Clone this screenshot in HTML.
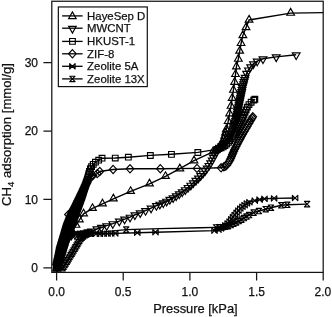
<!DOCTYPE html>
<html><head><meta charset="utf-8"><title>CH4 adsorption</title>
<style>html,body{margin:0;padding:0;background:#fff}body{width:332px;height:317px;overflow:hidden;font-family:"Liberation Sans",sans-serif}svg{display:block;will-change:transform}</style></head>
<body>
<svg width="332" height="317" viewBox="0 0 332 317">
<rect width="332" height="317" fill="#fff"/>
<defs><clipPath id="c"><rect x="51.8" y="1.25" width="271.4" height="271.15"/></clipPath></defs>
<g clip-path="url(#c)" fill="none" stroke="#000" stroke-width="1.4" stroke-linejoin="miter">
<polyline points="62.6,268.2 65.8,263.2 73.5,250.6 80.6,238.6 84.5,235.2 88.5,233.4 126.2,229.6 160,228.6 200,227.7 216,227.4 216,227.4 222,227.2 226,226.6 229,225.8 235,223 241,219.8 247,216.2 251,213.9 253.6,212.6 258.9,211 265.7,209.2 271,207.7 281.3,205.3 287.3,204.8 307.1,204.1"/>
<path stroke-width="1.15" stroke-linejoin="round" d="M59.9 265.5L65.3 265.5L59.9 270.9L65.3 270.9ZM60.9 263.9L66.3 263.9L60.9 269.3L66.3 269.3ZM61.9 262.3L67.3 262.3L61.9 267.7L67.3 267.7ZM63 260.7L68.4 260.7L63 266.1L68.4 266.1ZM64 259.1L69.4 259.1L64 264.5L69.4 264.5ZM65 257.5L70.4 257.5L65 262.9L70.4 262.9ZM65.9 255.8L71.3 255.8L65.9 261.2L71.3 261.2ZM66.9 254.2L72.3 254.2L66.9 259.6L72.3 259.6ZM67.9 252.6L73.3 252.6L67.9 258L73.3 258ZM68.9 251L74.3 251L68.9 256.4L74.3 256.4ZM69.9 249.4L75.3 249.4L69.9 254.8L75.3 254.8ZM70.9 247.7L76.3 247.7L70.9 253.1L76.3 253.1ZM71.9 246.1L77.3 246.1L71.9 251.5L77.3 251.5ZM72.8 244.5L78.2 244.5L72.8 249.9L78.2 249.9ZM73.8 242.8L79.2 242.8L73.8 248.2L79.2 248.2ZM74.8 241.2L80.2 241.2L74.8 246.6L80.2 246.6ZM75.7 239.6L81.1 239.6L75.7 245L81.1 245ZM76.7 237.9L82.1 237.9L76.7 243.3L82.1 243.3ZM77.7 236.3L83.1 236.3L77.7 241.7L83.1 241.7ZM79 234.9L84.4 234.9L79 240.3L84.4 240.3ZM80.4 233.7L85.8 233.7L80.4 239.1L85.8 239.1ZM81.9 232.5L87.3 232.5L81.9 237.9L87.3 237.9ZM83.6 231.7L89 231.7L83.6 237.1L89 237.1ZM85.3 230.9L90.7 230.9L85.3 236.3L90.7 236.3ZM123.5 226.9L128.9 226.9L123.5 232.3L128.9 232.3ZM213.3 224.7L218.7 224.7L213.3 230.1L218.7 230.1ZM216.3 224.6L221.7 224.6L216.3 230L221.7 230ZM219.3 224.5L224.7 224.5L219.3 229.9L224.7 229.9ZM222.3 224.1L227.7 224.1L222.3 229.5L227.7 229.5ZM225.2 223.4L230.6 223.4L225.2 228.8L230.6 228.8ZM228 222.3L233.4 222.3L228 227.7L233.4 227.7ZM230.7 221.1L236.1 221.1L230.7 226.5L236.1 226.5ZM233.4 219.7L238.8 219.7L233.4 225.1L238.8 225.1ZM236 218.3L241.4 218.3L236 223.7L241.4 223.7ZM238.7 216.9L244.1 216.9L238.7 222.3L244.1 222.3ZM241.2 215.3L246.6 215.3L241.2 220.7L246.6 220.7ZM243.8 213.8L249.2 213.8L243.8 219.2L249.2 219.2ZM246.4 212.3L251.8 212.3L246.4 217.7L251.8 217.7ZM250.9 209.9L256.3 209.9L250.9 215.3L256.3 215.3ZM256.2 208.3L261.6 208.3L256.2 213.7L261.6 213.7ZM263 206.5L268.4 206.5L263 211.9L268.4 211.9ZM268.3 205L273.7 205L268.3 210.4L273.7 210.4ZM278.6 202.6L284 202.6L278.6 208L284 208ZM284.6 202.1L290 202.1L284.6 207.5L290 207.5ZM304.4 201.4L309.8 201.4L304.4 206.8L309.8 206.8Z"/>
<polyline points="56.6,267.8 58.5,260 61,252 64,244 66.8,238.2 69,235.2 73.5,233.9 73.5,233.9 80,233.8 92.4,233.8 96.1,233.8 99.9,233.8 103.7,233.7 107.5,233.6 111.2,233.5 115.2,233.4 137.3,232.7 155.5,232.2 214.5,230.6 214.5,230.6 219.5,229.4 224,226.5 229,222.2 235,214.5 241,207.7 247,203.3 250,201.9 254.8,200.6 259.6,199.6 264.5,198.8 274.1,198.4 295.1,198"/>
<path stroke-width="1.15" stroke-linejoin="round" d="M53.9 265.1L59.3 270.5L59.3 265.1L53.9 270.5ZM54.3 263.5L59.7 268.9L59.7 263.5L54.3 268.9ZM54.7 262L60.1 267.4L60.1 262L54.7 267.4ZM55 260.4L60.4 265.8L60.4 260.4L55 265.8ZM55.4 258.9L60.8 264.3L60.8 258.9L55.4 264.3ZM55.8 257.3L61.2 262.7L61.2 257.3L55.8 262.7ZM56.3 255.8L61.7 261.2L61.7 255.8L56.3 261.2ZM56.7 254.3L62.1 259.7L62.1 254.3L56.7 259.7ZM57.2 252.7L62.6 258.1L62.6 252.7L57.2 258.1ZM57.7 251.2L63.1 256.6L63.1 251.2L57.7 256.6ZM58.2 249.7L63.6 255.1L63.6 249.7L58.2 255.1ZM58.7 248.2L64.1 253.6L64.1 248.2L58.7 253.6ZM59.3 246.7L64.7 252.1L64.7 246.7L59.3 252.1ZM59.8 245.2L65.2 250.6L65.2 245.2L59.8 250.6ZM60.4 243.7L65.8 249.1L65.8 243.7L60.4 249.1ZM61 242.2L66.4 247.6L66.4 242.2L61 247.6ZM61.6 240.7L67 246.1L67 240.7L61.6 246.1ZM62.3 239.3L67.7 244.7L67.7 239.3L62.3 244.7ZM63 237.8L68.4 243.2L68.4 237.8L63 243.2ZM63.7 236.4L69.1 241.8L69.1 236.4L63.7 241.8ZM64.5 235L69.9 240.4L69.9 235L64.5 240.4ZM65.4 233.7L70.8 239.1L70.8 233.7L65.4 239.1ZM66.4 232.5L71.8 237.9L71.8 232.5L66.4 237.9ZM67.9 232L73.3 237.4L73.3 232L67.9 237.4ZM69.5 231.6L74.9 237L74.9 231.6L69.5 237ZM73.8 231.2L79.2 236.6L79.2 231.2L73.8 236.6ZM77.1 231.1L82.5 236.5L82.5 231.1L77.1 236.5ZM80.4 231.1L85.8 236.5L85.8 231.1L80.4 236.5ZM83.7 231.1L89.1 236.5L89.1 231.1L83.7 236.5ZM87 231.1L92.4 236.5L92.4 231.1L87 236.5ZM93.4 231.1L98.8 236.5L98.8 231.1L93.4 236.5ZM97.2 231.1L102.6 236.5L102.6 231.1L97.2 236.5ZM101 231L106.4 236.4L106.4 231L101 236.4ZM104.8 230.9L110.2 236.3L110.2 230.9L104.8 236.3ZM108.5 230.8L113.9 236.2L113.9 230.8L108.5 236.2ZM112.5 230.7L117.9 236.1L117.9 230.7L112.5 236.1ZM134.6 230L140 235.4L140 230L134.6 235.4ZM152.8 229.5L158.2 234.9L158.2 229.5L152.8 234.9ZM211.8 227.9L217.2 233.3L217.2 227.9L211.8 233.3ZM215.7 227L221.1 232.4L221.1 227L215.7 232.4ZM218.2 225.8L223.6 231.2L223.6 225.8L218.2 231.2ZM220.5 224.3L225.9 229.7L225.9 224.3L220.5 229.7ZM222.7 222.6L228.1 228L228.1 222.6L222.7 228ZM224.9 220.7L230.3 226.1L230.3 220.7L224.9 226.1ZM226.9 218.8L232.3 224.2L232.3 218.8L226.9 224.2ZM228.6 216.6L234 222L234 216.6L228.6 222ZM230.3 214.4L235.7 219.8L235.7 214.4L230.3 219.8ZM232 212.2L237.4 217.6L237.4 212.2L232 217.6ZM233.9 210L239.3 215.4L239.3 210L233.9 215.4ZM235.7 207.9L241.1 213.3L241.1 207.9L235.7 213.3ZM237.6 205.8L243 211.2L243 205.8L237.6 211.2ZM239.7 204L245.1 209.4L245.1 204L239.7 209.4ZM241.9 202.4L247.3 207.8L247.3 202.4L241.9 207.8ZM244.2 200.7L249.6 206.1L249.6 200.7L244.2 206.1ZM246.7 199.5L252.1 204.9L252.1 199.5L246.7 204.9ZM252.1 197.9L257.5 203.3L257.5 197.9L252.1 203.3ZM256.9 196.9L262.3 202.3L262.3 196.9L256.9 202.3ZM261.8 196.1L267.2 201.5L267.2 196.1L261.8 201.5ZM271.4 195.7L276.8 201.1L276.8 195.7L271.4 201.1ZM292.4 195.3L297.8 200.7L297.8 195.3L292.4 200.7Z"/>
<polyline points="56.6,266.6 58.5,258.8 61,250.8 64,243.3 66.6,238.6 68.6,236 68.6,236 71,235.2 75,234.5 80,233.7 86,232.6 92.4,230.8 96.9,229 101.4,227.5 106.7,225.7 112.8,223.7 119.3,221.1 124.6,219.1 130.1,217.2 134.9,214.9 140.2,212.8 145.5,210.6 151.1,208.1 156.4,205.6 156.4,205.6 165,202.1 175.5,196.4 185,190 190.7,185.3 199,177.6 205,171.1 210,164.1 214.5,155.8 217.5,150.3 222,145.8 226.5,141.3 230,136.3 232.5,130.3 234.5,123.8 234.5,123.8 236.6,117.1 239.6,101.9 242.6,87.2 245.2,77.3 246.6,73.4 248.4,70 250.6,66.8 253.4,63.8 257.2,61.2 263,58.8 276.2,56.9 296.2,54.8"/>
<path stroke-width="1.15" d="M56.6 271.2L60.5 264.6L52.8 264.6ZM56.9 270.1L60.7 263.4L53 263.4ZM57.2 268.9L61 262.2L53.3 262.2ZM57.5 267.8L61.3 261.1L53.6 261.1ZM57.7 266.6L61.6 259.9L53.9 259.9ZM58 265.4L61.9 258.7L54.2 258.7ZM58.3 264.3L62.2 257.6L54.5 257.6ZM58.6 263.1L62.5 256.4L54.8 256.4ZM59 261.9L62.8 255.2L55.1 255.2ZM59.3 260.8L63.2 254.1L55.5 254.1ZM59.7 259.7L63.5 253L55.8 253ZM60 258.5L63.9 251.8L56.2 251.8ZM60.4 257.4L64.3 250.7L56.6 250.7ZM60.8 256.2L64.6 249.5L56.9 249.5ZM61.1 255.1L65 248.4L57.3 248.4ZM61.6 254L65.4 247.3L57.7 247.3ZM62 252.9L65.9 246.2L58.2 246.2ZM62.5 251.7L66.3 245L58.6 245ZM62.9 250.6L66.8 243.9L59.1 243.9ZM63.4 249.5L67.2 242.8L59.5 242.8ZM63.8 248.4L67.7 241.7L60 241.7ZM64.3 247.3L68.2 240.6L60.5 240.6ZM64.9 246.3L68.8 239.6L61.1 239.6ZM65.5 245.2L69.4 238.5L61.7 238.5ZM66.1 244.2L69.9 237.5L62.2 237.5ZM66.7 243.1L70.5 236.4L62.8 236.4ZM67.4 242.2L71.3 235.5L63.6 235.5ZM68.1 241.2L72 234.5L64.3 234.5ZM71.5 239.8L75.3 233.1L67.6 233.1ZM74.8 239.2L78.7 232.5L71 232.5ZM78.2 238.6L82 231.9L74.3 231.9ZM81.5 238.1L85.4 231.4L77.7 231.4ZM84.9 237.5L88.7 230.8L81 230.8ZM88.2 236.6L92 229.9L84.3 229.9ZM91.4 235.7L95.3 229L87.6 229ZM96.9 233.6L100.8 226.9L93.1 226.9ZM101.4 232.1L105.2 225.4L97.6 225.4ZM106.7 230.3L110.5 223.7L102.9 223.7ZM112.8 228.3L116.6 221.7L109 221.7ZM119.3 225.8L123.1 219.1L115.5 219.1ZM124.6 223.8L128.4 217.1L120.8 217.1ZM130.1 221.8L133.9 215.2L126.2 215.2ZM134.9 219.5L138.8 212.8L131.1 212.8ZM140.2 217.4L144 210.8L136.3 210.8ZM145.5 215.2L149.3 208.6L141.7 208.6ZM151.1 212.8L154.9 206.1L147.2 206.1ZM156.4 210.2L160.2 203.6L152.6 203.6ZM156.4 210.2L160.2 203.6L152.6 203.6ZM159.8 208.9L163.7 202.2L156 202.2ZM163.3 207.5L167.1 200.8L159.4 200.8ZM166.6 205.9L170.4 199.2L162.7 199.2ZM169.8 204.1L173.7 197.4L166 197.4ZM173.1 202.4L176.9 195.7L169.2 195.7ZM176.2 200.5L180.1 193.8L172.4 193.8ZM179.3 198.5L183.1 191.8L175.4 191.8ZM182.3 196.5L186.1 189.8L178.4 189.8ZM185.3 194.4L189.1 187.7L181.4 187.7ZM188 192.2L191.9 185.5L184.2 185.5ZM190.8 189.9L194.6 183.2L186.9 183.2ZM193.3 187.5L197.2 180.8L189.5 180.8ZM195.9 185.1L199.7 178.4L192 178.4ZM198.4 182.8L202.3 176.1L194.6 176.1ZM200.8 180.3L204.6 173.6L196.9 173.6ZM203 177.9L206.9 171.2L199.2 171.2ZM205.2 175.4L209.1 168.7L201.4 168.7ZM207.1 172.8L211 166.1L203.3 166.1ZM209 170.2L212.8 163.5L205.1 163.5ZM210.7 167.5L214.5 160.8L206.8 160.8ZM212.1 164.8L216 158.1L208.3 158.1ZM213.6 162.2L217.4 155.5L209.7 155.5ZM215 159.6L218.8 152.9L211.1 152.9ZM216.4 157L220.2 150.3L212.5 150.3ZM217.8 154.6L221.7 147.9L214 147.9ZM219.8 152.7L223.6 146L215.9 146ZM221.7 150.8L225.5 144.1L217.8 144.1ZM223.5 148.9L227.4 142.2L219.7 142.2ZM225.3 147.1L229.2 140.4L221.5 140.4ZM226.9 145.3L230.8 138.6L223.1 138.6ZM228.3 143.3L232.2 136.6L224.5 136.6ZM229.7 141.4L233.5 134.7L225.8 134.7ZM230.6 139.4L234.5 132.7L226.8 132.7ZM231.5 137.4L235.3 130.7L227.6 130.7ZM232.3 135.4L236.2 128.7L228.5 128.7ZM233 133.5L236.8 126.8L229.1 126.8ZM233.5 131.6L237.4 124.9L229.7 124.9ZM234.1 129.7L238 123L230.3 123ZM234.5 128.4L238.3 121.8L230.7 121.8ZM235 126.7L238.9 120L231.2 120ZM235.6 125L239.4 118.3L231.7 118.3ZM236.1 123.3L240 116.6L232.3 116.6ZM236.6 121.6L240.5 114.9L232.8 114.9ZM237 119.8L240.8 113.1L233.1 113.1ZM237.3 118L241.2 111.3L233.5 111.3ZM237.7 116.3L241.5 109.6L233.8 109.6ZM238 114.5L241.9 107.8L234.2 107.8ZM238.4 112.7L242.2 106L234.5 106ZM238.7 110.9L242.6 104.2L234.9 104.2ZM239.1 109.1L242.9 102.4L235.2 102.4ZM239.4 107.3L243.3 100.6L235.6 100.6ZM239.8 105.5L243.7 98.8L236 98.8ZM240.2 103.7L244 97L236.3 97ZM240.6 101.9L244.4 95.2L236.7 95.2ZM240.9 100L244.8 93.3L237.1 93.3ZM241.3 98.1L245.2 91.4L237.5 91.4ZM241.7 96.2L245.6 89.5L237.9 89.5ZM242.1 94.3L245.9 87.6L238.2 87.6ZM242.5 92.3L246.3 85.6L238.6 85.6ZM243 90.4L246.8 83.7L239.1 83.7ZM243.5 88.4L247.4 81.7L239.7 81.7ZM244.1 86.3L247.9 79.6L240.2 79.6ZM244.6 84.2L248.5 77.5L240.8 77.5ZM245.2 82.1L249 75.4L241.3 75.4ZM246.6 78L250.4 71.3L242.8 71.3ZM248.4 74.7L252.2 68L244.6 68ZM250.6 71.5L254.4 64.8L246.8 64.8ZM253.4 68.5L257.2 61.8L249.6 61.8ZM257.2 65.8L261.1 59.1L253.3 59.1ZM263 63.5L266.9 56.8L259.1 56.8ZM276.2 61.6L280.1 54.9L272.3 54.9ZM296.2 59.5L300.1 52.8L292.3 52.8Z"/>
<polyline points="56.6,269 59.6,257.7 62.8,246.7 65.3,239.2 67,235.2 69.8,231.6 72.8,228.2 76,225.2 79.4,219.8 83.6,213.8 92.5,208.4 102.5,203.9 113.4,198.9 130.6,191.4 149.5,183.9 165.5,176.4 179.8,168.7 194,160.7 213,151.8 213,151.8 218,148.7 221,145.7 223.2,141.2 225,135.2 226.5,128.8 228.2,121.5 229.6,113.8 231,106.1 232.2,98.3 233.4,90.2 234.6,82.3 235.5,74.4 236.4,66.8 238.3,59.2 239.7,51.1 241.1,43.4 242.8,35.6 246.1,27.6 249.1,20 290.6,13.1 324,12.6"/>
<path stroke-width="1.15" d="M56.6 264.4L60.5 271.1L52.8 271.1ZM56.9 263.4L60.7 270.1L53 270.1ZM57.1 262.4L61 269.1L53.3 269.1ZM57.4 261.5L61.2 268.2L53.5 268.2ZM57.6 260.5L61.5 267.2L53.8 267.2ZM57.9 259.5L61.7 266.2L54 266.2ZM58.1 258.5L62 265.2L54.3 265.2ZM58.4 257.6L62.2 264.3L54.5 264.3ZM58.7 256.6L62.5 263.3L54.8 263.3ZM58.9 255.6L62.8 262.3L55.1 262.3ZM59.2 254.6L63 261.3L55.3 261.3ZM59.4 253.7L63.3 260.4L55.6 260.4ZM59.7 252.7L63.6 259.4L55.9 259.4ZM60 251.7L63.9 258.4L56.2 258.4ZM60.3 250.6L64.1 257.3L56.4 257.3ZM60.6 249.6L64.4 256.3L56.7 256.3ZM60.9 248.6L64.7 255.3L57 255.3ZM61.2 247.5L65.1 254.2L57.4 254.2ZM61.5 246.5L65.4 253.2L57.7 253.2ZM61.8 245.4L65.7 252.1L58 252.1ZM62.2 244.2L66 250.9L58.3 250.9ZM62.5 243.1L66.4 249.8L58.7 249.8ZM62.9 241.9L66.7 248.6L59 248.6ZM63.3 240.7L67.1 247.4L59.4 247.4ZM63.7 239.4L67.5 246.1L59.8 246.1ZM64.1 238.1L68 244.8L60.3 244.8ZM64.6 236.7L68.4 243.4L60.7 243.4ZM65.1 235.2L68.9 241.9L61.2 241.9ZM65.7 233.7L69.5 240.4L61.8 240.4ZM66.3 232.1L70.2 238.8L62.5 238.8ZM67.1 230.4L71 237.1L63.3 237.1ZM68.4 228.8L72.2 235.5L64.5 235.5ZM69.7 227L73.6 233.7L65.9 233.7ZM71.3 225.2L75.2 231.9L67.5 231.9ZM76 220.6L79.8 227.2L72.2 227.2ZM79.4 215.2L83.2 221.8L75.6 221.8ZM83.6 209.2L87.4 215.8L79.8 215.8ZM92.5 203.8L96.3 210.4L88.7 210.4ZM102.5 199.2L106.3 205.9L98.7 205.9ZM113.4 194.2L117.2 200.9L109.6 200.9ZM130.6 186.8L134.4 193.4L126.8 193.4ZM149.5 179.2L153.3 185.9L145.7 185.9ZM165.5 171.8L169.3 178.4L161.7 178.4ZM179.8 164.1L183.7 170.8L176 170.8ZM194 156.1L197.8 162.8L190.2 162.8ZM213 147.2L216.8 153.8L209.2 153.8ZM215.9 145.4L219.7 152.1L212 152.1ZM218.6 143.4L222.5 150.1L214.8 150.1ZM221 141L224.9 147.7L217.2 147.7ZM222.5 137.9L226.4 144.6L218.7 144.6ZM223.7 134.8L227.6 141.5L219.9 141.5ZM224.7 131.5L228.6 138.2L220.9 138.2ZM225.5 128.2L229.4 134.9L221.7 134.9ZM226.3 124.9L230.2 131.6L222.5 131.6ZM228.2 116.8L232 123.5L224.3 123.5ZM229.6 109.1L233.4 115.8L225.8 115.8ZM231 101.5L234.8 108.2L227.2 108.2ZM232.2 93.6L236 100.3L228.3 100.3ZM233.4 85.5L237.2 92.2L229.6 92.2ZM234.6 77.6L238.4 84.3L230.8 84.3ZM235.5 69.8L239.3 76.5L231.7 76.5ZM236.4 62.1L240.2 68.8L232.6 68.8ZM238.3 54.5L242.2 61.2L234.5 61.2ZM239.7 46.4L243.5 53.1L235.8 53.1ZM241.1 38.8L244.9 45.5L237.2 45.5ZM242.8 30.9L246.7 37.6L239 37.6ZM246.1 22.9L249.9 29.6L242.2 29.6ZM249.1 15.4L252.9 22.1L245.2 22.1ZM290.6 8.4L294.5 15.2L286.8 15.2Z"/>
<polyline points="57.2,267.8 58.4,263 62.5,250.6 66.3,238 71.4,226.5 75.2,215 78.7,206 82,196.5 85,187 88.4,180 91.5,176.4 94.6,174.7 97.2,173.6 99.8,171.5 113.1,169.5 130,168.8 160.3,168.7 197,168.4 221.1,167.8 221.1,167.8 226.5,165.8 230.2,159.8 235,148.4 242.6,134.2 252.8,116.8 252.8,116.8"/>
<path stroke-width="1.15" d="M57.2 263.7L61 267.8L57.2 271.9L53.4 267.8ZM57.4 262.9L61.2 267L57.4 271.1L53.6 267ZM57.6 262.1L61.4 266.2L57.6 270.3L53.8 266.2ZM57.8 261.4L61.6 265.5L57.8 269.6L54 265.5ZM58 260.6L61.8 264.7L58 268.8L54.2 264.7ZM58.2 259.8L62 263.9L58.2 268L54.4 263.9ZM58.4 259L62.2 263.1L58.4 267.2L54.6 263.1ZM58.6 258.3L62.4 262.4L58.6 266.5L54.8 262.4ZM58.9 257.5L62.7 261.6L58.9 265.7L55.1 261.6ZM59.1 256.8L62.9 260.9L59.1 265L55.3 260.9ZM59.4 256L63.2 260.1L59.4 264.2L55.6 260.1ZM59.6 255.2L63.4 259.3L59.6 263.4L55.8 259.3ZM59.9 254.5L63.7 258.6L59.9 262.7L56.1 258.6ZM60.1 253.7L63.9 257.8L60.1 261.9L56.3 257.8ZM60.4 253L64.2 257.1L60.4 261.2L56.6 257.1ZM60.6 252.2L64.4 256.3L60.6 260.4L56.8 256.3ZM60.9 251.4L64.7 255.5L60.9 259.6L57.1 255.5ZM61.1 250.7L64.9 254.8L61.1 258.9L57.3 254.8ZM61.4 249.9L65.2 254L61.4 258.1L57.6 254ZM61.6 249.2L65.4 253.3L61.6 257.4L57.8 253.3ZM61.9 248.4L65.7 252.5L61.9 256.6L58.1 252.5ZM62.1 247.6L65.9 251.7L62.1 255.8L58.3 251.7ZM62.4 246.9L66.2 251L62.4 255.1L58.6 251ZM62.6 246.1L66.4 250.2L62.6 254.3L58.8 250.2ZM62.8 245.4L66.6 249.5L62.8 253.6L59 249.5ZM63.1 244.6L66.9 248.7L63.1 252.8L59.3 248.7ZM63.3 243.8L67.1 247.9L63.3 252L59.5 247.9ZM63.5 243.1L67.3 247.2L63.5 251.3L59.7 247.2ZM63.8 242.3L67.6 246.4L63.8 250.5L60 246.4ZM64 241.5L67.8 245.6L64 249.7L60.2 245.6ZM64.2 240.8L68 244.9L64.2 249L60.4 244.9ZM64.5 240L68.3 244.1L64.5 248.2L60.7 244.1ZM64.7 239.2L68.5 243.3L64.7 247.4L60.9 243.3ZM64.9 238.5L68.7 242.6L64.9 246.7L61.1 242.6ZM65.2 237.7L69 241.8L65.2 245.9L61.4 241.8ZM65.4 236.9L69.2 241L65.4 245.1L61.6 241ZM65.6 236.2L69.4 240.3L65.6 244.4L61.8 240.3ZM65.8 235.4L69.6 239.5L65.8 243.6L62 239.5ZM66.1 234.6L69.9 238.7L66.1 242.8L62.3 238.7ZM66.3 233.9L70.1 238L66.3 242.1L62.5 238ZM66.6 233.1L70.4 237.2L66.6 241.3L62.8 237.2ZM67 232.4L70.8 236.5L67 240.6L63.2 236.5ZM67.3 231.7L71.1 235.8L67.3 239.9L63.5 235.8ZM67.6 230.9L71.4 235L67.6 239.1L63.8 235ZM67.9 230.2L71.7 234.3L67.9 238.4L64.1 234.3ZM68.3 229.5L72.1 233.6L68.3 237.7L64.5 233.6ZM68.6 228.7L72.4 232.8L68.6 236.9L64.8 232.8ZM68.9 228L72.7 232.1L68.9 236.2L65.1 232.1ZM69.2 227.3L73 231.4L69.2 235.5L65.4 231.4ZM69.6 226.5L73.4 230.6L69.6 234.7L65.8 230.6ZM69.9 225.8L73.7 229.9L69.9 234L66.1 229.9ZM70.2 225.1L74 229.2L70.2 233.3L66.4 229.2ZM70.5 224.3L74.3 228.4L70.5 232.5L66.7 228.4ZM70.9 223.6L74.7 227.7L70.9 231.8L67.1 227.7ZM71.2 222.8L75 226.9L71.2 231L67.4 226.9ZM71.5 222.1L75.3 226.2L71.5 230.3L67.7 226.2ZM71.8 221.3L75.6 225.4L71.8 229.5L68 225.4ZM72 220.6L75.8 224.7L72 228.8L68.2 224.7ZM72.3 219.8L76.1 223.9L72.3 228L68.5 223.9ZM72.5 219L76.3 223.1L72.5 227.2L68.7 223.1ZM72.8 218.2L76.6 222.3L72.8 226.4L69 222.3ZM73 217.5L76.8 221.6L73 225.7L69.2 221.6ZM73.3 216.7L77.1 220.8L73.3 224.9L69.5 220.8ZM73.5 215.9L77.3 220L73.5 224.1L69.7 220ZM73.8 215.1L77.6 219.2L73.8 223.3L70 219.2ZM74.1 214.4L77.9 218.5L74.1 222.6L70.3 218.5ZM74.3 213.6L78.1 217.7L74.3 221.8L70.5 217.7ZM74.6 212.8L78.4 216.9L74.6 221L70.8 216.9ZM74.8 212L78.6 216.1L74.8 220.2L71 216.1ZM75.1 211.2L78.9 215.3L75.1 219.4L71.3 215.3ZM75.4 210.4L79.2 214.5L75.4 218.6L71.6 214.5ZM75.7 209.6L79.5 213.7L75.7 217.8L71.9 213.7ZM76 208.8L79.8 212.9L76 217L72.2 212.9ZM76.3 208.1L80.1 212.2L76.3 216.3L72.5 212.2ZM76.6 207.3L80.4 211.4L76.6 215.5L72.8 211.4ZM76.9 206.5L80.7 210.6L76.9 214.7L73.1 210.6ZM77.2 205.7L81 209.8L77.2 213.9L73.4 209.8ZM77.6 204.8L81.4 208.9L77.6 213L73.8 208.9ZM77.9 204L81.7 208.1L77.9 212.2L74.1 208.1ZM78.2 203.2L82 207.3L78.2 211.4L74.4 207.3ZM78.5 202.4L82.3 206.5L78.5 210.6L74.7 206.5ZM78.8 201.5L82.6 205.6L78.8 209.7L75 205.6ZM79.1 200.7L82.9 204.8L79.1 208.9L75.3 204.8ZM79.4 199.8L83.2 203.9L79.4 208L75.6 203.9ZM79.7 199L83.5 203.1L79.7 207.2L75.9 203.1ZM80 198.1L83.8 202.2L80 206.3L76.2 202.2ZM80.3 197.2L84.1 201.3L80.3 205.4L76.5 201.3ZM80.7 196.3L84.5 200.4L80.7 204.5L76.9 200.4ZM81 195.4L84.8 199.5L81 203.6L77.2 199.5ZM81.3 194.4L85.1 198.5L81.3 202.6L77.5 198.5ZM81.6 193.5L85.4 197.6L81.6 201.7L77.8 197.6ZM82 192.5L85.8 196.6L82 200.7L78.2 196.6ZM82.3 191.5L86.1 195.6L82.3 199.7L78.5 195.6ZM82.6 190.5L86.4 194.6L82.6 198.7L78.8 194.6ZM82.9 189.5L86.7 193.6L82.9 197.7L79.1 193.6ZM83.2 188.5L87 192.6L83.2 196.7L79.4 192.6ZM83.6 187.4L87.4 191.5L83.6 195.6L79.8 191.5ZM83.9 186.3L87.7 190.4L83.9 194.5L80.1 190.4ZM84.3 185.2L88.1 189.3L84.3 193.4L80.5 189.3ZM84.7 184L88.5 188.1L84.7 192.2L80.9 188.1ZM85.1 182.8L88.9 186.9L85.1 191L81.3 186.9ZM85.6 181.6L89.4 185.7L85.6 189.8L81.8 185.7ZM86.2 180.4L90 184.5L86.2 188.6L82.4 184.5ZM86.8 179.1L90.6 183.2L86.8 187.3L83 183.2ZM87.5 177.8L91.3 181.9L87.5 186L83.7 181.9ZM88.1 176.4L91.9 180.5L88.1 184.6L84.3 180.5ZM89.1 175.1L92.9 179.2L89.1 183.3L85.3 179.2ZM90.2 173.9L94 178L90.2 182.1L86.4 178ZM91.3 172.5L95.1 176.6L91.3 180.7L87.5 176.6ZM92.9 171.5L96.7 175.6L92.9 179.7L89.1 175.6ZM97.2 169.5L101 173.6L97.2 177.7L93.4 173.6ZM99.8 167.4L103.6 171.5L99.8 175.6L96 171.5ZM113.1 165.4L116.9 169.5L113.1 173.6L109.3 169.5ZM130 164.7L133.8 168.8L130 172.9L126.2 168.8ZM160.3 164.6L164.1 168.7L160.3 172.8L156.5 168.7ZM197 164.3L200.8 168.4L197 172.5L193.2 168.4ZM221.1 163.7L224.9 167.8L221.1 171.9L217.3 167.8ZM223.9 162.7L227.7 166.8L223.9 170.9L220.1 166.8ZM225.7 162L229.5 166.1L225.7 170.2L221.9 166.1ZM227 160.8L230.8 164.9L227 169L223.2 164.9ZM228 159.2L231.8 163.3L228 167.4L224.2 163.3ZM229 157.6L232.8 161.7L229 165.8L225.2 161.7ZM230 156L233.8 160.1L230 164.2L226.2 160.1ZM230.8 154.2L234.6 158.3L230.8 162.4L227 158.3ZM231.6 152.5L235.4 156.6L231.6 160.7L227.8 156.6ZM232.3 150.7L236.1 154.8L232.3 158.9L228.5 154.8ZM233 149L236.8 153.1L233 157.2L229.2 153.1ZM233.8 147.2L237.6 151.3L233.8 155.4L230 151.3ZM234.5 145.5L238.3 149.6L234.5 153.7L230.7 149.6ZM235.3 143.8L239.1 147.9L235.3 152L231.5 147.9ZM236.2 142.1L240 146.2L236.2 150.3L232.4 146.2ZM237.1 140.4L240.9 144.5L237.1 148.6L233.3 144.5ZM238 138.7L241.8 142.8L238 146.9L234.2 142.8ZM238.9 137L242.7 141.1L238.9 145.2L235.1 141.1ZM239.8 135.4L243.6 139.5L239.8 143.6L236 139.5ZM240.7 133.7L244.5 137.8L240.7 141.9L236.9 137.8ZM241.6 132L245.4 136.1L241.6 140.2L237.8 136.1ZM242.5 130.3L246.3 134.4L242.5 138.5L238.7 134.4ZM243.4 128.7L247.2 132.8L243.4 136.9L239.6 132.8ZM244.4 127.1L248.2 131.2L244.4 135.3L240.6 131.2ZM245.3 125.4L249.1 129.5L245.3 133.6L241.5 129.5ZM246.3 123.8L250.1 127.9L246.3 132L242.5 127.9ZM247.3 122.1L251.1 126.2L247.3 130.3L243.5 126.2ZM248.2 120.5L252 124.6L248.2 128.7L244.4 124.6ZM249.2 118.9L253 123L249.2 127.1L245.4 123ZM250.1 117.2L253.9 121.3L250.1 125.4L246.3 121.3ZM251.1 115.6L254.9 119.7L251.1 123.8L247.3 119.7ZM252.1 114L255.9 118.1L252.1 122.2L248.3 118.1ZM252.8 112.7L256.6 116.8L252.8 120.9L249 116.8ZM68.4 210.5L72.2 214.6L68.4 218.7L64.6 214.6Z"/>
<polyline points="56.4,267.8 57.2,263 59.2,250.6 63,238 66.4,226.5 71,215 75.6,206 80.2,196.5 84.6,187 87.4,179 88.8,174 89.6,171 90.4,168.7 91.5,166.5 93.2,164.3 95.4,162.2 98.6,160.2 102,158.2 115.2,158 128.3,157.2 150.3,155.4 171.4,154.3 197.8,152.4 216.8,149.4 216.8,149.4 223,147 228,143 232,137.5 235,132.5 238,127 240.5,122.5 243,117 243,117 245.6,111 247.6,106.5 249.6,103.6 252,101.4 254.8,99.4 254.8,99.2"/>
<path stroke-width="1.15" d="M53.5 264.9h5.7v5.7h-5.7ZM53.7 264.2h5.7v5.7h-5.7ZM53.8 263.4h5.7v5.7h-5.7ZM53.9 262.6h5.7v5.7h-5.7ZM54.1 261.8h5.7v5.7h-5.7ZM54.2 261h5.7v5.7h-5.7ZM54.3 260.2h5.7v5.7h-5.7ZM54.5 259.4h5.7v5.7h-5.7ZM54.6 258.6h5.7v5.7h-5.7ZM54.7 257.8h5.7v5.7h-5.7ZM54.8 257.1h5.7v5.7h-5.7ZM55 256.3h5.7v5.7h-5.7ZM55.1 255.5h5.7v5.7h-5.7ZM55.2 254.7h5.7v5.7h-5.7ZM55.4 253.9h5.7v5.7h-5.7ZM55.5 253.1h5.7v5.7h-5.7ZM55.6 252.3h5.7v5.7h-5.7ZM55.7 251.5h5.7v5.7h-5.7ZM55.9 250.7h5.7v5.7h-5.7ZM56 249.9h5.7v5.7h-5.7ZM56.1 249.2h5.7v5.7h-5.7ZM56.3 248.4h5.7v5.7h-5.7ZM56.4 247.6h5.7v5.7h-5.7ZM56.6 246.8h5.7v5.7h-5.7ZM56.9 246.1h5.7v5.7h-5.7ZM57.1 245.3h5.7v5.7h-5.7ZM57.3 244.5h5.7v5.7h-5.7ZM57.6 243.8h5.7v5.7h-5.7ZM57.8 243h5.7v5.7h-5.7ZM58 242.2h5.7v5.7h-5.7ZM58.2 241.5h5.7v5.7h-5.7ZM58.5 240.7h5.7v5.7h-5.7ZM58.7 239.9h5.7v5.7h-5.7ZM58.9 239.2h5.7v5.7h-5.7ZM59.2 238.4h5.7v5.7h-5.7ZM59.4 237.6h5.7v5.7h-5.7ZM59.6 236.9h5.7v5.7h-5.7ZM59.9 236.1h5.7v5.7h-5.7ZM60.1 235.3h5.7v5.7h-5.7ZM60.3 234.6h5.7v5.7h-5.7ZM60.6 233.8h5.7v5.7h-5.7ZM60.8 233h5.7v5.7h-5.7ZM61 232.2h5.7v5.7h-5.7ZM61.2 231.5h5.7v5.7h-5.7ZM61.5 230.7h5.7v5.7h-5.7ZM61.7 229.9h5.7v5.7h-5.7ZM61.9 229.2h5.7v5.7h-5.7ZM62.1 228.4h5.7v5.7h-5.7ZM62.4 227.6h5.7v5.7h-5.7ZM62.6 226.9h5.7v5.7h-5.7ZM62.8 226.1h5.7v5.7h-5.7ZM63.1 225.3h5.7v5.7h-5.7ZM63.3 224.5h5.7v5.7h-5.7ZM63.5 223.8h5.7v5.7h-5.7ZM63.8 223h5.7v5.7h-5.7ZM64.1 222.3h5.7v5.7h-5.7ZM64.4 221.5h5.7v5.7h-5.7ZM64.7 220.8h5.7v5.7h-5.7ZM65 220h5.7v5.7h-5.7ZM65.3 219.2h5.7v5.7h-5.7ZM65.6 218.5h5.7v5.7h-5.7ZM65.9 217.7h5.7v5.7h-5.7ZM66.2 217h5.7v5.7h-5.7ZM66.5 216.2h5.7v5.7h-5.7ZM66.8 215.4h5.7v5.7h-5.7ZM67.1 214.7h5.7v5.7h-5.7ZM67.5 213.9h5.7v5.7h-5.7ZM67.8 213.1h5.7v5.7h-5.7ZM68.1 212.3h5.7v5.7h-5.7ZM68.4 211.6h5.7v5.7h-5.7ZM68.8 210.8h5.7v5.7h-5.7ZM69.2 210.1h5.7v5.7h-5.7ZM69.6 209.3h5.7v5.7h-5.7ZM70 208.6h5.7v5.7h-5.7ZM70.4 207.8h5.7v5.7h-5.7ZM70.8 207h5.7v5.7h-5.7ZM71.2 206.3h5.7v5.7h-5.7ZM71.6 205.5h5.7v5.7h-5.7ZM72 204.7h5.7v5.7h-5.7ZM72.4 203.9h5.7v5.7h-5.7ZM72.8 203.1h5.7v5.7h-5.7ZM73.2 202.3h5.7v5.7h-5.7ZM73.6 201.4h5.7v5.7h-5.7ZM74 200.6h5.7v5.7h-5.7ZM74.4 199.8h5.7v5.7h-5.7ZM74.8 198.9h5.7v5.7h-5.7ZM75.2 198h5.7v5.7h-5.7ZM75.7 197.2h5.7v5.7h-5.7ZM76.1 196.3h5.7v5.7h-5.7ZM76.5 195.3h5.7v5.7h-5.7ZM77 194.4h5.7v5.7h-5.7ZM77.4 193.5h5.7v5.7h-5.7ZM77.9 192.5h5.7v5.7h-5.7ZM78.3 191.5h5.7v5.7h-5.7ZM78.8 190.5h5.7v5.7h-5.7ZM79.3 189.4h5.7v5.7h-5.7ZM79.8 188.4h5.7v5.7h-5.7ZM80.3 187.3h5.7v5.7h-5.7ZM80.8 186.1h5.7v5.7h-5.7ZM81.4 184.9h5.7v5.7h-5.7ZM81.9 183.7h5.7v5.7h-5.7ZM82.4 182.4h5.7v5.7h-5.7ZM82.9 181h5.7v5.7h-5.7ZM83.4 179.5h5.7v5.7h-5.7ZM83.9 178h5.7v5.7h-5.7ZM84.5 176.4h5.7v5.7h-5.7ZM85 174.7h5.7v5.7h-5.7ZM85.5 172.8h5.7v5.7h-5.7ZM86 170.8h5.7v5.7h-5.7ZM86.6 168.6h5.7v5.7h-5.7ZM87.6 165.8h5.7v5.7h-5.7ZM88.7 163.7h5.7v5.7h-5.7ZM90.4 161.5h5.7v5.7h-5.7ZM92.6 159.3h5.7v5.7h-5.7ZM95.8 157.3h5.7v5.7h-5.7ZM99.2 155.3h5.7v5.7h-5.7ZM112.4 155.2h5.7v5.7h-5.7ZM125.5 154.3h5.7v5.7h-5.7ZM147.5 152.6h5.7v5.7h-5.7ZM168.6 151.5h5.7v5.7h-5.7ZM195 149.6h5.7v5.7h-5.7ZM214 146.6h5.7v5.7h-5.7ZM216.1 145.7h5.7v5.7h-5.7ZM218.2 144.9h5.7v5.7h-5.7ZM220.3 144h5.7v5.7h-5.7ZM222.1 142.6h5.7v5.7h-5.7ZM223.9 141.1h5.7v5.7h-5.7ZM225.6 139.5h5.7v5.7h-5.7ZM226.9 137.7h5.7v5.7h-5.7ZM228.3 135.8h5.7v5.7h-5.7ZM229.6 133.9h5.7v5.7h-5.7ZM230.8 132h5.7v5.7h-5.7ZM232 130h5.7v5.7h-5.7ZM233.1 128h5.7v5.7h-5.7ZM234.2 125.9h5.7v5.7h-5.7ZM235.3 123.9h5.7v5.7h-5.7ZM236.4 121.9h5.7v5.7h-5.7ZM237.5 119.9h5.7v5.7h-5.7ZM238.5 117.8h5.7v5.7h-5.7ZM239.4 115.7h5.7v5.7h-5.7ZM240.2 114.2h5.7v5.7h-5.7ZM241.1 111.9h5.7v5.7h-5.7ZM242.2 109.5h5.7v5.7h-5.7ZM243.3 107h5.7v5.7h-5.7ZM244.5 104.3h5.7v5.7h-5.7ZM246.1 101.7h5.7v5.7h-5.7ZM248.3 99.4h5.7v5.7h-5.7ZM250.9 97.3h5.7v5.7h-5.7ZM252 96.4h5.7v5.7h-5.7Z"/>
</g>
<g fill="none" stroke="#151515" stroke-width="1.25">
<rect x="51.8" y="1.25" width="271.4" height="271.15"/>
<path d="M56.6 272.4v8M123.2 272.4v8M189.9 272.4v8M256.6 272.4v8M323.2 272.4v8M51.8 267.8h-8.4M51.8 199.4h-8.4M51.8 131h-8.4M51.8 62.7h-8.4"/>
</g>
<g font-family="'Liberation Sans', sans-serif" fill="#111" stroke="#111" stroke-width="0.25">
<g font-size="12" text-anchor="middle">
<text x="56.6" y="295.8">0.0</text>
<text x="123.2" y="295.8">0.5</text>
<text x="189.9" y="295.8">1.0</text>
<text x="256.6" y="295.8">1.5</text>
<text x="322.8" y="295.8">2.0</text>
</g>
<g font-size="12" text-anchor="end">
<text x="38" y="272.1">0</text>
<text x="38" y="203.7">10</text>
<text x="38" y="135.3">20</text>
<text x="38" y="67">30</text>
</g>
<text x="195.4" y="313.2" font-size="12.9" text-anchor="middle">Pressure [kPa]</text>
<text transform="translate(11.4 134.5) rotate(-90)" font-size="13.1" text-anchor="middle">CH<tspan font-size="9.6" dy="2.4">4</tspan><tspan dy="-2.4"> adsorption [mmol/g]</tspan></text>
</g>
<rect x="58.35" y="6.95" width="88.95000000000002" height="79.64999999999999" fill="#fff" stroke="#111" stroke-width="1.2"/>
<g fill="none" stroke="#000" stroke-width="1.3">
<path d="M62.1 15.9H82.6"/><path stroke-width="1.15" d="M72.4 11.9L76.2 18.6L68.6 18.6Z"/>
<path d="M62.1 28.2H82.6"/><path stroke-width="1.15" d="M72.4 33.1L76.2 26.4L68.6 26.4Z"/>
<path d="M62.1 41.4H82.6"/><path stroke-width="1.15" d="M69.6 38.5h5.7v5.7h-5.7Z"/>
<path d="M62.1 53.8H82.6"/><path stroke-width="1.15" d="M72.4 49.7L76.2 53.8L72.4 57.9L68.6 53.8Z"/>
<path d="M62.1 66.3H82.6"/><path stroke-width="1.15" stroke-linejoin="round" d="M69.7 63.6L75.1 69L75.1 63.6L69.7 69Z"/>
<path d="M62.1 78.9H82.6"/><path stroke-width="1.15" stroke-linejoin="round" d="M69.7 76.2L75.1 76.2L69.7 81.6L75.1 81.6Z"/>
</g>
<g font-family="'Liberation Sans', sans-serif" fill="#111" stroke="#111" stroke-width="0.25" font-size="11.4">
<text x="87.1" y="19.9">HayeSep D</text>
<text x="87.1" y="32.2">MWCNT</text>
<text x="87.1" y="45.4">HKUST-1</text>
<text x="87.1" y="57.8">ZIF-8</text>
<text x="87.1" y="70.3">Zeolite 5A</text>
<text x="87.1" y="82.9">Zeolite 13X</text>
</g>
</svg>
</body></html>
